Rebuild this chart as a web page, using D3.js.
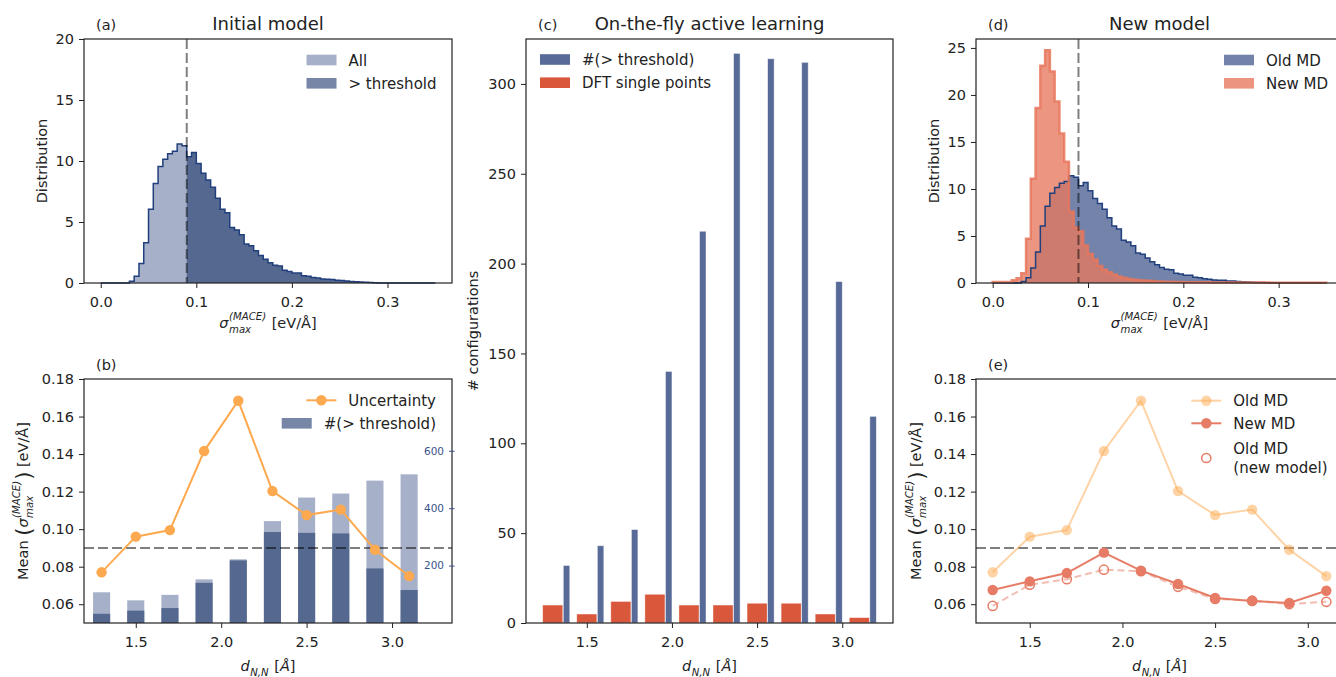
<!DOCTYPE html>
<html>
<head>
<meta charset="utf-8">
<script src="https://cdn.jsdelivr.net/npm/d3@7"></script>
<style>
  body { margin: 0; background: #fff; }
  svg { display: block; font-family: "DejaVu Sans", sans-serif; }
  svg text { white-space: pre; }
</style>
</head>
<body>
<svg id="fig" width="1336" height="677"></svg>
<script>
// ---- data ----
// histograms of sigma_max (density), bins of 0.005 from 0 to 0.35
const binWidth = 0.005;
const oldMD = [
  0, 0, 0, 0, 0, 0,
  0.15, 0.55, 1.6, 3.3, 6.05, 8.15, 9.55, 10.15, 10.6, 10.8,
  11.4, 11.25, 10.35, 10.7, 9.8, 9.0, 8.45, 7.85, 6.95, 6.05,
  5.75, 4.55, 4.35, 3.95, 3.2, 3.05, 2.65, 2.25, 1.95, 1.65,
  1.45, 1.4, 1.05, 0.95, 0.82, 0.82, 0.6, 0.55, 0.46, 0.4,
  0.33, 0.3, 0.28, 0.22, 0.2, 0.17, 0.13, 0.1, 0.08, 0.06,
  0.04, 0.02, 0, 0, 0, 0, 0, 0, 0, 0,
  0, 0, 0, 0
];
const newMD = [
  0.1, 0.1, 0.1, 0.1,
  0.3, 0.5, 1.05, 4.7, 11.1, 18.6, 23.1, 24.75, 22.5, 19.3,
  15.9, 12.9, 7.6, 5.9, 5.5, 4.0, 3.1, 2.5, 1.8, 1.4,
  1.15, 0.9, 0.7, 0.55, 0.45, 0.38, 0.32, 0.27, 0.23, 0.2,
  0.17, 0.15, 0.13, 0.12, 0.11, 0.1, 0.09, 0.09, 0.08, 0.08,
  0.07, 0.07, 0.06, 0.06, 0.06, 0.05, 0.05, 0.05, 0.05, 0.04,
  0.04, 0.04, 0.04, 0.04, 0.03, 0.03, 0.03, 0.03, 0.03, 0.03,
  0.03, 0.03, 0.03, 0.03, 0.03, 0.02
];
const threshold = 0.09;

const dNN = [1.3, 1.5, 1.7, 1.9, 2.1, 2.3, 2.5, 2.7, 2.9, 3.1];
const sigmaOld = [0.077, 0.096, 0.0995, 0.1416, 0.1684, 0.1203, 0.1075, 0.1104, 0.089, 0.075];
const sigmaNew = [0.0676, 0.0722, 0.0766, 0.0875, 0.0779, 0.0708, 0.0633, 0.0617, 0.0607, 0.0672];
const sigmaOldNewModel = [0.0591, 0.0704, 0.0733, 0.0784, 0.0776, 0.0693, 0.0628, 0.0619, 0.0601, 0.0613];
const countAll = [107, 79, 98, 152, 222, 355, 437, 451, 496, 518];
const countAbove = [32, 43, 52, 140, 218, 317, 314, 312, 190, 115];
const dftPoints = [10, 5, 12, 16, 10, 10, 11, 11, 5, 3];

const sigmaTicks = [0, 0.1, 0.2, 0.3];
const dTicks = [1.5, 2.0, 2.5, 3.0];
const meanTicks = [0.06, 0.08, 0.10, 0.12, 0.14, 0.16, 0.18];

// ---- colours ----
const lightBlue = '#a6b0c8', darkBlue = '#55688f', midBlue = '#7785a7', navy = '#213f7c';
const oldFill = '#7383a9', newFill = '#e7795f', newEdge = '#e8775c';
const barBlue = '#586b98', barRed = '#d9573b';
const orange = '#fda94f', salmon = '#e67c65';
const ink = '#222';

const svg = d3.select('#fig');
const FS = 14.5;

function measure(txt, size, italic) {
  const t = svg.append('text').attr('font-size', size).attr('font-style', italic ? 'italic' : null).text(txt);
  const w = t.node().getComputedTextLength();
  t.remove();
  return w;
}

function drawAxes(g, x, y, o) {
  const [x0, x1] = x.range(), [y0, y1] = y.range();
  const ax = g.append('g').attr('transform', `translate(0,${y0})`)
    .call(d3.axisBottom(x).tickValues(o.xticks).tickFormat(d3.format(o.xfmt)).tickSize(5).tickPadding(8.7));
  const ay = g.append('g').attr('transform', `translate(${x0},0)`)
    .call(d3.axisLeft(y).tickValues(o.yticks).tickFormat(d3.format(o.yfmt)).tickSize(5).tickPadding(5));
  [ax, ay].forEach(a => {
    a.attr('font-family', null).attr('font-size', null);
    a.select('.domain').remove();
    a.selectAll('line').attr('stroke', ink).attr('stroke-width', 1);
    a.selectAll('text').attr('font-size', FS).attr('fill', ink);
  });
  g.append('rect').attr('x', x0).attr('y', y1).attr('width', x1 - x0).attr('height', y0 - y1)
    .attr('fill', 'none').attr('stroke', ink).attr('stroke-width', 1.2);
}

// text with sub/superscripts, centred on its origin
function mathText(parent, parts, size) {
  const g = parent.append('g').attr('fill', ink);
  let x = 0;
  parts.forEach(p => {
    if (p.sup !== undefined || p.sub !== undefined) {
      const s = size * 0.7;
      let w = 0;
      if (p.sup !== undefined) {
        const t = g.append('text').attr('x', x + 0.5).attr('y', -size * 0.55).attr('font-size', s)
          .attr('font-style', 'italic').text(p.sup);
        w = Math.max(w, t.node().getComputedTextLength());
      }
      if (p.sub !== undefined) {
        const t = g.append('text').attr('x', x + 0.5).attr('y', size * 0.33).attr('font-size', s)
          .attr('font-style', 'italic').text(p.sub);
        w = Math.max(w, t.node().getComputedTextLength());
      }
      x += w + 1.5;
    } else {
      const sz = p.big ? size * 1.45 : size;
      const t = g.append('text').attr('x', x).attr('y', p.big ? 3 : 0).attr('font-size', sz)
        .attr('font-style', p.italic ? 'italic' : null).text(p.t);
      x += t.node().getComputedTextLength();
    }
  });
  g.selectAll('text').attr('x', function() { return +this.getAttribute('x') - x / 2; });
  return g;
}

const sigmaLabel = [{t: 'σ', italic: true}, {sup: '(MACE)', sub: 'max'}, {t: ' [eV/Å]'}];
const meanLabel = [{t: 'Mean '}, {t: '(', big: true}, {t: 'σ', italic: true}, {sup: '(MACE)', sub: 'max'},
                   {t: ')', big: true}, {t: ' [eV/Å]'}];
const dLabel = [{t: 'd', italic: true}, {sub: 'N,N'}, {t: ' ['}, {t: 'Å', italic: true}, {t: ']'}];

function xLabel(g, parts, cx, y) {
  mathText(g, parts, FS).attr('transform', `translate(${cx},${y})`);
}
function yLabel(g, parts, x, cy) {
  mathText(g, parts, FS).attr('transform', `translate(${x},${cy}) rotate(-90)`);
}
function heading(g, letter, title, x, cx, top) {
  g.append('text').attr('x', x + 12).attr('y', top - 9.5).attr('font-size', FS).attr('fill', ink).text(letter);
  if (title) g.append('text').attr('x', cx).attr('y', top - 9).attr('text-anchor', 'middle')
    .attr('font-size', 18).attr('fill', ink).text(title);
}

// legend: items {type, color, label(s), ...}; opts {right} or {left}, rows = centre y for each item
function legend(g, items, opts) {
  const fs = 15;
  const maxW = d3.max(items, it => d3.max([].concat(it.label), l => measure(l, fs)));
  const tx = opts.left !== undefined ? opts.left : opts.right - maxW;
  const hx = tx - 42;
  items.forEach((it, i) => {
    const cy = opts.rows[i];
    if (it.type === 'patch') {
      g.append('rect').attr('x', hx).attr('y', cy - 5.3).attr('width', 30).attr('height', 10.6).attr('fill', it.color);
    } else {
      if (it.line) g.append('line').attr('x1', hx).attr('x2', hx + 30).attr('y1', cy).attr('y2', cy)
        .attr('stroke', it.color).attr('stroke-width', 2).attr('opacity', it.opacity || 1);
      g.append('circle').attr('cx', hx + 15).attr('cy', cy).attr('r', it.open ? 4.6 : 5.2)
        .attr('fill', it.open ? 'none' : it.color).attr('stroke', it.open ? it.color : 'none')
        .attr('stroke-width', 1.5).attr('opacity', it.opacity || 1);
    }
    const lines = [].concat(it.label);
    lines.forEach((l, j) => {
      g.append('text').attr('x', tx).attr('y', cy + 5.5 + (j - (lines.length - 1) / 2) * 18.5)
        .attr('font-size', fs).attr('fill', ink).text(l);
    });
  });
}

function stepPoints(vals, start) {
  const pts = [[start * binWidth, 0]];
  for (let i = start; i < vals.length; i++) pts.push([i * binWidth, vals[i]]);
  pts.push([vals.length * binWidth, 0]);
  return pts;
}
function stepPath(x, y) {
  return d3.line().x(d => x(d[0])).y(d => y(d[1])).curve(d3.curveStepAfter);
}

// ---- (a) Initial model ----
{
  const g = svg.append('g');
  const x = d3.scaleLinear().domain([-0.0175, 0.3675]).range([84, 452]);
  const y = d3.scaleLinear().domain([0, 20]).range([283, 39]);
  const sp = stepPath(x, y);
  const thrIdx = Math.round(threshold / binWidth);
  g.append('path').attr('d', sp(stepPoints(oldMD, 0)) + 'Z').attr('fill', lightBlue);
  g.append('path').attr('d', sp(stepPoints(oldMD, thrIdx)) + 'Z').attr('fill', darkBlue);
  g.append('path').attr('d', sp(stepPoints(oldMD, 0))).attr('fill', 'none').attr('stroke', navy).attr('stroke-width', 1.5);
  g.append('line').attr('x1', x(threshold)).attr('x2', x(threshold)).attr('y1', 39).attr('y2', 283)
    .attr('stroke', '#000').attr('stroke-opacity', 0.5).attr('stroke-width', 2).attr('stroke-dasharray', '10,4');
  drawAxes(g, x, y, {xticks: sigmaTicks, xfmt: '.1f', yticks: [0, 5, 10, 15, 20], yfmt: 'd'});
  heading(g, '(a)', 'Initial model', 84, 268, 39);
  xLabel(g, sigmaLabel, 268, 328);
  g.append('text').attr('transform', 'translate(46.5,161) rotate(-90)').attr('text-anchor', 'middle')
    .attr('font-size', FS).attr('fill', ink).text('Distribution');
  legend(g, [{type: 'patch', color: lightBlue, label: 'All'}, {type: 'patch', color: midBlue, label: '> threshold'}],
    {right: 436.5, rows: [60, 83.3]});
}

// ---- (b) uncertainty vs d_NN ----
{
  const g = svg.append('g');
  const x = d3.scaleLinear().domain([1.197, 3.351]).range([84, 452]);
  const y = d3.scaleLinear().domain([0.05, 0.18]).range([623, 379]);
  const y2 = d3.scaleLinear().domain([0, 850]).range([623, 379]);
  const bw = x(1.1) - x(1.0);
  g.selectAll('.all').data(countAll).enter().append('rect')
    .attr('x', (d, i) => x(dNN[i]) - bw / 2).attr('width', bw)
    .attr('y', d => y2(d)).attr('height', d => y2(0) - y2(d)).attr('fill', lightBlue);
  g.selectAll('.above').data(countAbove).enter().append('rect')
    .attr('x', (d, i) => x(dNN[i]) - bw / 2).attr('width', bw)
    .attr('y', d => y2(d)).attr('height', d => y2(0) - y2(d)).attr('fill', darkBlue);
  g.append('line').attr('x1', 84).attr('x2', 452).attr('y1', y(threshold)).attr('y2', y(threshold))
    .attr('stroke', '#000').attr('stroke-opacity', 0.5).attr('stroke-width', 2).attr('stroke-dasharray', '10,4');
  const line = d3.line().x((d, i) => x(dNN[i])).y(d => y(d));
  g.append('path').datum(sigmaOld).attr('d', line).attr('fill', 'none').attr('stroke', orange).attr('stroke-width', 2);
  g.selectAll('.pt').data(sigmaOld).enter().append('circle')
    .attr('cx', (d, i) => x(dNN[i])).attr('cy', d => y(d)).attr('r', 5.2).attr('fill', orange);
  drawAxes(g, x, y, {xticks: dTicks, xfmt: '.1f', yticks: meanTicks, yfmt: '.2f'});
  // twin axis, labels drawn inside
  const ar = g.append('g').attr('transform', 'translate(452,0)')
    .call(d3.axisLeft(y2).tickValues([200, 400, 600]).tickFormat(d3.format('d')).tickSize(3).tickPadding(5));
  ar.attr('font-family', null).attr('font-size', null);
  ar.select('.domain').remove();
  ar.selectAll('line').attr('x1', 2.5).attr('stroke', '#3a538c').attr('stroke-width', 1);
  ar.selectAll('text').attr('font-size', 10.5).attr('fill', '#3a538c');
  heading(g, '(b)', null, 84, 268, 379);
  xLabel(g, dLabel, 268, 671);
  yLabel(g, meanLabel, 28, 501);
  legend(g, [{type: 'marker', line: true, color: orange, label: 'Uncertainty'}], {right: 436, rows: [400.3]});
  legend(g, [{type: 'patch', color: midBlue, label: '#(> threshold)'}], {right: 436, rows: [423.3]});
}

// ---- (c) on-the-fly active learning ----
{
  const g = svg.append('g');
  const x = d3.scaleLinear().domain([1.143, 3.298]).range([526, 893]);
  const y = d3.scaleLinear().domain([0, 325]).range([623, 39]);
  const wRed = x(1.118) - x(1.0), wBlue = x(1.038) - x(1.0);
  g.selectAll('.dft').data(dftPoints).enter().append('rect')
    .attr('x', (d, i) => x(dNN[i] - 0.059)).attr('width', wRed)
    .attr('y', d => y(d)).attr('height', d => y(0) - y(d))
    .attr('fill', barRed).attr('stroke', '#fff').attr('stroke-width', 0.7).attr('stroke-opacity', 0.6);
  g.selectAll('.thr').data(countAbove).enter().append('rect')
    .attr('x', (d, i) => x(dNN[i] + 0.062)).attr('width', wBlue)
    .attr('y', d => y(d)).attr('height', d => y(0) - y(d))
    .attr('fill', barBlue).attr('stroke', '#fff').attr('stroke-width', 0.7).attr('stroke-opacity', 0.6);
  drawAxes(g, x, y, {xticks: dTicks, xfmt: '.1f', yticks: [0, 50, 100, 150, 200, 250, 300], yfmt: 'd'});
  heading(g, '(c)', 'On-the-fly active learning', 526, 709.5, 39);
  xLabel(g, dLabel, 709.5, 671);
  g.append('text').attr('transform', 'translate(477.5,331) rotate(-90)').attr('text-anchor', 'middle')
    .attr('font-size', FS).attr('fill', ink).text('# configurations');
  legend(g, [{type: 'patch', color: barBlue, label: '#(> threshold)'}, {type: 'patch', color: barRed, label: 'DFT single points'}],
    {left: 582, rows: [59.5, 82.7]});
}

// ---- (d) New model ----
{
  const g = svg.append('g');
  const x = d3.scaleLinear().domain([-0.0175, 0.3675]).range([976, 1343]);
  const y = d3.scaleLinear().domain([0, 25.95]).range([283, 39]);
  const sp = stepPath(x, y);
  g.append('path').attr('d', sp(stepPoints(oldMD, 0)) + 'Z').attr('fill', oldFill);
  g.append('path').attr('d', sp(stepPoints(newMD, 0)) + 'Z').attr('fill', newFill).attr('fill-opacity', 0.78);
  g.append('path').attr('d', sp(stepPoints(oldMD, 0))).attr('fill', 'none').attr('stroke', navy).attr('stroke-width', 1.5);
  g.append('path').attr('d', sp(stepPoints(newMD, 0))).attr('fill', 'none').attr('stroke', newEdge)
    .attr('stroke-width', 2.5).attr('stroke-opacity', 0.85);
  g.append('line').attr('x1', x(threshold)).attr('x2', x(threshold)).attr('y1', 39).attr('y2', 283)
    .attr('stroke', '#000').attr('stroke-opacity', 0.5).attr('stroke-width', 2).attr('stroke-dasharray', '10,4');
  drawAxes(g, x, y, {xticks: sigmaTicks, xfmt: '.1f', yticks: [0, 5, 10, 15, 20, 25], yfmt: 'd'});
  heading(g, '(d)', 'New model', 976, 1159.5, 39);
  xLabel(g, sigmaLabel, 1159.5, 328);
  g.append('text').attr('transform', 'translate(938.5,161) rotate(-90)').attr('text-anchor', 'middle')
    .attr('font-size', FS).attr('fill', ink).text('Distribution');
  legend(g, [{type: 'patch', color: '#7282a9', label: 'Old MD'}, {type: 'patch', color: '#ed9480', label: 'New MD'}],
    {right: 1328, rows: [60, 83.3]});
}

// ---- (e) uncertainty, old vs new model ----
{
  const g = svg.append('g');
  const x = d3.scaleLinear().domain([1.21, 3.19]).range([976, 1343]);
  const y = d3.scaleLinear().domain([0.05, 0.18]).range([623, 379]);
  g.append('line').attr('x1', 976).attr('x2', 1343).attr('y1', y(threshold)).attr('y2', y(threshold))
    .attr('stroke', '#000').attr('stroke-opacity', 0.5).attr('stroke-width', 2).attr('stroke-dasharray', '10,4');
  const line = d3.line().x((d, i) => x(dNN[i])).y(d => y(d));
  const series = [
    {vals: sigmaOld, color: orange, opacity: 0.5, dash: null, open: false},
    {vals: sigmaOldNewModel, color: salmon, opacity: 0.5, dash: '7,4', open: true},
    {vals: sigmaNew, color: salmon, opacity: 1, dash: null, open: false}
  ];
  series.forEach(s => {
    g.append('path').datum(s.vals).attr('d', line).attr('fill', 'none').attr('stroke', s.color)
      .attr('stroke-width', 2).attr('stroke-opacity', s.opacity).attr('stroke-dasharray', s.dash);
    g.selectAll(null).data(s.vals).enter().append('circle')
      .attr('cx', (d, i) => x(dNN[i])).attr('cy', d => y(d)).attr('r', s.open ? 4.6 : 5.2)
      .attr('fill', s.open ? 'none' : s.color).attr('fill-opacity', s.opacity)
      .attr('stroke', s.open ? s.color : 'none').attr('stroke-width', 1.5);
  });
  drawAxes(g, x, y, {xticks: dTicks, xfmt: '.1f', yticks: meanTicks, yfmt: '.2f'});
  heading(g, '(e)', null, 976, 1159.5, 379);
  xLabel(g, dLabel, 1159.5, 671);
  yLabel(g, meanLabel, 921, 501);
  legend(g, [
    {type: 'marker', line: true, color: orange, opacity: 0.5, label: 'Old MD'},
    {type: 'marker', line: true, color: salmon, label: 'New MD'},
    {type: 'marker', open: true, color: salmon, label: ['Old MD', '(new model)']}
  ], {right: 1327.5, rows: [400.7, 423.3, 458]});
}
</script>
</body>
</html>
